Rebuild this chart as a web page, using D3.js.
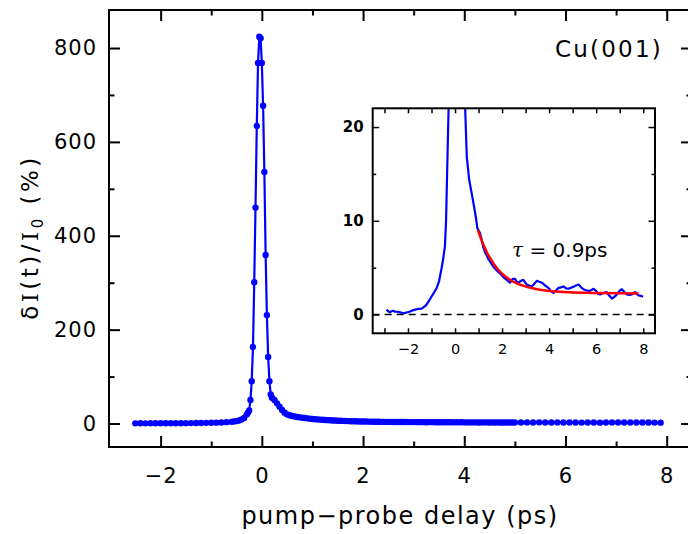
<!DOCTYPE html>
<html>
<head>
<meta charset="utf-8">
<script src="https://cdn.jsdelivr.net/npm/d3@7"></script>
<style>
  body { margin: 0; background: #fff; }
  text { font-family: "DejaVu Sans", sans-serif; }
</style>
</head>
<body>
<script>

// main panel: pump-probe delay (ps) and signal dI/I0 (%)
var mainDelay = [
  -2.5, -2.4, -2.3, -2.2, -2.1, -2.0, -1.9, -1.8, -1.7, -1.6,
  -1.5, -1.4, -1.3, -1.2, -1.1, -1.0, -0.9, -0.8, -0.7, -0.6,
  -0.55, -0.5, -0.45, -0.4, -0.35, -0.3, -0.275,
  -0.25, -0.225, -0.2, -0.175, -0.15, -0.125, -0.1, -0.075, -0.05, -0.025,
  0.0, 0.025, 0.05, 0.075, 0.1, 0.125, 0.15, 0.175,
  0.2, 0.25, 0.3, 0.35, 0.4, 0.45, 0.5, 0.55, 0.6, 0.65,
  0.7, 0.75, 0.8, 0.85, 0.9, 0.95, 1.0, 1.05, 1.1, 1.15,
  1.2, 1.25, 1.3, 1.35, 1.4, 1.45, 1.5, 1.55, 1.6, 1.65,
  1.7, 1.75, 1.8, 1.85, 1.9, 1.95, 2.0, 2.05, 2.1, 2.15,
  2.2, 2.25, 2.3, 2.35, 2.4, 2.45, 2.5, 2.55, 2.6, 2.65,
  2.7, 2.75, 2.8, 2.85, 2.9, 2.95, 3.0, 3.05, 3.1, 3.15,
  3.2, 3.25, 3.3, 3.35, 3.4, 3.45, 3.5, 3.55, 3.6, 3.65,
  3.7, 3.75, 3.8, 3.85, 3.9, 3.95, 4.0, 4.05, 4.1, 4.15,
  4.2, 4.25, 4.3, 4.35, 4.4, 4.45, 4.5, 4.55, 4.6, 4.65,
  4.7, 4.75, 4.8, 4.85, 4.9, 4.95, 5.0,
  5.12, 5.24, 5.36, 5.48, 5.6, 5.72, 5.84, 5.96, 6.08, 6.2,
  6.32, 6.44, 6.56, 6.68, 6.8, 6.92, 7.04, 7.16, 7.28, 7.4,
  7.52, 7.64, 7.76, 7.88
];
var mainSignal = [
  0.4, 0.5, 0.4, 0.5, 0.5, 0.6, 0.5, 0.6, 0.7, 0.7,
  0.8, 0.9, 1.0, 1.2, 1.4, 1.6, 1.9, 2.3, 2.9, 3.6,
  4.3, 5.2, 6.5, 8.5, 12, 19, 23,
  28, 50, 90, 163, 301, 460, 634, 768, 824, 821,
  768, 677, 536, 359, 231, 142, 90, 62,
  55, 50, 43, 36, 29, 23, 19.5, 17.5, 16, 15,
  14, 13.2, 12.4, 11.7, 11, 10.4, 9.8, 9.3, 8.8, 8.4,
  8.0, 7.6, 7.2, 6.9, 6.6, 6.3, 6.0, 5.8, 5.6, 5.4,
  5.2, 5.0, 4.8, 4.7, 4.5, 4.4, 4.3, 4.2, 4.1, 4.0,
  3.9, 3.8, 3.7, 3.6, 3.6, 3.5, 3.5, 3.6, 3.4, 3.3,
  3.4, 3.3, 3.2, 3.3, 3.1, 3.0, 3.1, 3.0, 2.9, 3.0,
  2.9, 2.8, 2.9, 3.0, 2.9, 2.8, 2.7, 2.8, 2.7, 2.6,
  2.7, 2.6, 2.5, 2.6, 2.5, 2.6, 2.5, 2.4, 2.5, 2.4,
  2.5, 2.4, 2.3, 2.4, 2.5, 2.4, 2.3, 2.4, 2.3, 2.4,
  2.3, 2.2, 2.3, 2.4, 2.3, 2.2, 2.3,
  2.3, 2.4, 2.2, 2.5, 2.3, 2.2, 2.4, 2.1, 2.3, 2.2,
  2.0, 2.3, 2.1, 1.9, 2.2, 2.4, 2.3, 2.1, 2.2, 2.3,
  2.1, 2.2, 2.0, 1.9
];

// inset: same measurement, zoomed in
var insetDelay = [
  -2.91, -2.84, -2.77, -2.7, -2.62, -2.55, -2.48, -2.41, -2.3, -2.2,
  -2.13, -2.02, -1.91, -1.8, -1.7, -1.56, -1.42, -1.3, -1.21, -1.1,
  -0.99, -0.88, -0.78, -0.68, -0.57, -0.5, -0.43, -0.38, -0.33, -0.27,
  -0.2, 0.0, 0.2, 0.43,
  0.5, 0.6, 0.71, 0.81, 0.89, 0.95, 1.06, 1.13, 1.2, 1.28,
  1.35, 1.42, 1.5, 1.63, 1.77, 1.91, 2.05, 2.2, 2.34, 2.45,
  2.55, 2.62, 2.7, 2.8, 2.9, 3.05, 3.15, 3.26, 3.38, 3.48,
  3.58, 3.69, 3.83, 3.97, 4.08, 4.18, 4.3, 4.4, 4.5, 4.61,
  4.72, 4.82, 4.92, 5.03, 5.14, 5.25, 5.36, 5.46, 5.57, 5.67,
  5.78, 5.89, 6.0, 6.08, 6.17, 6.3, 6.45, 6.56, 6.67, 6.78,
  6.88, 6.98, 7.09, 7.2, 7.3, 7.41, 7.52, 7.6, 7.66, 7.73,
  7.8, 7.9, 7.99
];
var insetSignal = [
  0.53, 0.35, 0.25, 0.35, 0.4, 0.3, 0.3, 0.28, 0.2, 0.15,
  0.18, 0.25, 0.32, 0.45, 0.53, 0.6, 0.64, 0.85, 1.06, 1.5,
  1.95, 2.4, 2.84, 3.55, 4.96, 6.0, 7.3, 10.1, 15.8, 22.5,
  60, 800, 60, 22,
  16.8, 14.4, 12.9, 11.5, 10.3, 9.2, 8.7, 8.0, 7.2, 6.6,
  6.3, 5.9, 5.6, 5.1, 4.7, 4.4, 4.0, 3.7, 3.4, 3.8,
  3.8, 3.5, 3.4, 3.6, 3.7, 3.2, 3.1, 3.0, 3.3, 3.6,
  3.5, 3.4, 3.1, 2.85, 2.5, 2.3, 2.6, 2.85, 2.9, 3.0,
  2.8, 2.75, 2.85, 2.95, 3.1, 3.2, 2.9, 2.7, 2.6, 2.5,
  2.6, 2.75, 2.5, 2.2, 2.15, 2.3, 2.4, 2.0, 1.7, 1.9,
  2.15, 2.5, 2.7, 2.4, 2.15, 2.1, 2.15, 2.3, 2.4, 2.2,
  2.05, 2.0, 1.9
];

// exponential fit, tau = 0.9 ps
var fitDelay = [0.97, 1.1, 1.25, 1.4, 1.55, 1.7, 1.85, 2.0, 2.2, 2.4, 2.6, 2.8, 3.0, 3.3, 3.6, 4.0, 4.5, 5.0, 5.5, 6.0, 7.0, 7.8];
var fitSignal = [9.0, 8.1, 7.2, 6.4, 5.8, 5.2, 4.75, 4.35, 3.95, 3.6, 3.35, 3.15, 3.0, 2.8, 2.65, 2.52, 2.42, 2.36, 2.32, 2.3, 2.27, 2.25];

var mainXTicks = [-2, 0, 2, 4, 6, 8];
var mainXMinor = [-1, 1, 3, 5, 7];
var mainYTicks = [0, 200, 400, 600, 800];
var mainYMinor = [100, 300, 500, 700];
var insetXTicks = [-2, 0, 2, 4, 6, 8];
var insetXMinor = [-3, -1, 1, 3, 5, 7];
var insetYTicks = [0, 10, 20];
var insetYMinor = [5, 15];

var svgWidth = 688;
var svgHeight = 534;
var blue = "#0000ff";

var svg = d3.select("body").append("svg")
  .attr("width", svgWidth)
  .attr("height", svgHeight);

var x = d3.scaleLinear().domain([-3.02, 8.5]).range([109, 692]);
var y = d3.scaleLinear().domain([-50, 881]).range([447, 10]);

function styleAxis(g, size, width) {
  g.select(".domain").remove();
  g.selectAll("line").attr("stroke", "#000").attr("stroke-width", width);
  g.selectAll("text")
    .attr("fill", "#000")
    .style("font-size", size + "px")
    .style("font-family", "'DejaVu Sans', sans-serif");
}

// main axes, ticks drawn inward on all four sides
svg.append("g").attr("transform", "translate(0,447)")
  .call(d3.axisBottom(x).tickValues(mainXTicks).tickSize(-11).tickPadding(21))
  .call(styleAxis, 21, 2)
  .selectAll("text").style("letter-spacing", "1px");
svg.append("g").attr("transform", "translate(0,447)")
  .call(d3.axisBottom(x).tickValues(mainXMinor).tickSize(-5.5).tickFormat(""))
  .call(styleAxis, 21, 2);
svg.append("g").attr("transform", "translate(0,10)")
  .call(d3.axisTop(x).tickValues(mainXTicks).tickSize(-11).tickFormat(""))
  .call(styleAxis, 21, 2);
svg.append("g").attr("transform", "translate(0,10)")
  .call(d3.axisTop(x).tickValues(mainXMinor).tickSize(-5.5).tickFormat(""))
  .call(styleAxis, 21, 2);

svg.append("g").attr("transform", "translate(109,0)")
  .call(d3.axisLeft(y).tickValues(mainYTicks).tickSize(-11).tickPadding(12))
  .call(styleAxis, 21, 2)
  .selectAll("text").style("letter-spacing", "1px");
svg.append("g").attr("transform", "translate(109,0)")
  .call(d3.axisLeft(y).tickValues(mainYMinor).tickSize(-5.5).tickFormat(""))
  .call(styleAxis, 21, 2);
svg.append("g").attr("transform", "translate(692,0)")
  .call(d3.axisRight(y).tickValues(mainYTicks).tickSize(-11).tickFormat(""))
  .call(styleAxis, 21, 2);
svg.append("g").attr("transform", "translate(692,0)")
  .call(d3.axisRight(y).tickValues(mainYMinor).tickSize(-5.5).tickFormat(""))
  .call(styleAxis, 21, 2);

svg.append("rect")
  .attr("x", 109).attr("y", 10)
  .attr("width", 583).attr("height", 437)
  .attr("fill", "none").attr("stroke", "#000").attr("stroke-width", 2);

// main data
var mainData = d3.zip(mainDelay, mainSignal);

svg.append("path")
  .datum(mainData)
  .attr("fill", "none")
  .attr("stroke", blue)
  .attr("stroke-width", 2.2)
  .attr("d", d3.line().x(function(d) { return x(d[0]); }).y(function(d) { return y(d[1]); }));

svg.selectAll("circle.pt")
  .data(mainData)
  .enter()
  .append("circle")
  .attr("class", "pt")
  .attr("cx", function(d) { return x(d[0]); })
  .attr("cy", function(d) { return y(d[1]); })
  .attr("r", 3.2)
  .attr("fill", blue);

// labels
svg.append("text")
  .attr("x", 555).attr("y", 57)
  .style("font-size", "23px")
  .style("letter-spacing", "2.2px")
  .text("Cu(001)");

svg.append("text")
  .attr("x", 400).attr("y", 524)
  .attr("text-anchor", "middle")
  .style("font-size", "24px")
  .style("letter-spacing", "1.5px")
  .text("pump\u2212probe delay (ps)");

var yTitle = svg.append("text")
  .attr("transform", "translate(38,237) rotate(-90)")
  .attr("text-anchor", "middle")
  .style("font-size", "23px")
  .style("letter-spacing", "3.5px");
yTitle.append("tspan").text("\u03b4");
yTitle.append("tspan").style("font-family", "'DejaVu Serif', serif").text("I");
yTitle.append("tspan").text("(t)/");
yTitle.append("tspan").style("font-family", "'DejaVu Serif', serif").text("I");
yTitle.append("tspan").attr("dy", 5).style("font-size", "15px").text("0");
yTitle.append("tspan").attr("dy", -5).text(" (%)");

// inset
var ix = d3.scaleLinear().domain([-3.5, 8.5]).range([372.7, 655]);
var iy = d3.scaleLinear().domain([-2, 22]).range([333.3, 108.3]);

var inset = svg.append("g");

inset.append("rect")
  .attr("x", 372.7).attr("y", 108.3)
  .attr("width", 282.3).attr("height", 225)
  .attr("fill", "#fff");

svg.append("clipPath").attr("id", "insetClip")
  .append("rect")
  .attr("x", 372.7).attr("y", 108.3)
  .attr("width", 282.3).attr("height", 225);

inset.append("g").attr("transform", "translate(0,333.3)")
  .call(d3.axisBottom(ix).tickValues(insetXTicks).tickSize(-5).tickPadding(10))
  .call(styleAxis, 14.5, 1.5);
inset.append("g").attr("transform", "translate(0,333.3)")
  .call(d3.axisBottom(ix).tickValues(insetXMinor).tickSize(-5).tickFormat(""))
  .call(styleAxis, 14, 1.5);
inset.append("g").attr("transform", "translate(0,108.3)")
  .call(d3.axisTop(ix).tickValues(insetXTicks.concat(insetXMinor)).tickSize(-5).tickFormat(""))
  .call(styleAxis, 14, 1.5);

inset.append("g").attr("transform", "translate(372.7,0)")
  .call(d3.axisLeft(iy).tickValues(insetYTicks).tickSize(-6.5).tickPadding(9))
  .call(styleAxis, 15, 1.5)
  .selectAll("text").style("font-weight", "bold");
inset.append("g").attr("transform", "translate(372.7,0)")
  .call(d3.axisLeft(iy).tickValues(insetYMinor).tickSize(-3.5).tickFormat(""))
  .call(styleAxis, 14, 1.5);
inset.append("g").attr("transform", "translate(655,0)")
  .call(d3.axisRight(iy).tickValues(insetYTicks).tickSize(-6.5).tickFormat(""))
  .call(styleAxis, 14, 1.5);
inset.append("g").attr("transform", "translate(655,0)")
  .call(d3.axisRight(iy).tickValues(insetYMinor).tickSize(-3.5).tickFormat(""))
  .call(styleAxis, 14, 1.5);

// zero line
inset.append("line")
  .attr("x1", ix(-3.5)).attr("x2", ix(8.5))
  .attr("y1", iy(0)).attr("y2", iy(0))
  .attr("stroke", "#000")
  .attr("stroke-width", 1.5)
  .attr("stroke-dasharray", "7,5");

var plotArea = inset.append("g").attr("clip-path", "url(#insetClip)");

plotArea.append("path")
  .datum(d3.zip(insetDelay, insetSignal))
  .attr("fill", "none")
  .attr("stroke", blue)
  .attr("stroke-width", 2.2)
  .attr("stroke-linejoin", "round")
  .attr("d", d3.line().x(function(d) { return ix(d[0]); }).y(function(d) { return iy(d[1]); }));

plotArea.append("path")
  .datum(d3.zip(fitDelay, fitSignal))
  .attr("fill", "none")
  .attr("stroke", "#ff0000")
  .attr("stroke-width", 2.5)
  .attr("d", d3.line().curve(d3.curveMonotoneX).x(function(d) { return ix(d[0]); }).y(function(d) { return iy(d[1]); }));

inset.append("rect")
  .attr("x", 372.7).attr("y", 108.3)
  .attr("width", 282.3).attr("height", 225)
  .attr("fill", "none").attr("stroke", "#000").attr("stroke-width", 2);

var tauLabel = inset.append("text")
  .attr("x", 512).attr("y", 257)
  .style("font-size", "20px")
  .attr("xml:space", "preserve");
tauLabel.append("tspan").style("font-family", "'DejaVu Serif', serif").style("font-style", "italic").text("\u03c4");
tauLabel.append("tspan").text(" = 0.9ps");

</script>
</body>
</html>
